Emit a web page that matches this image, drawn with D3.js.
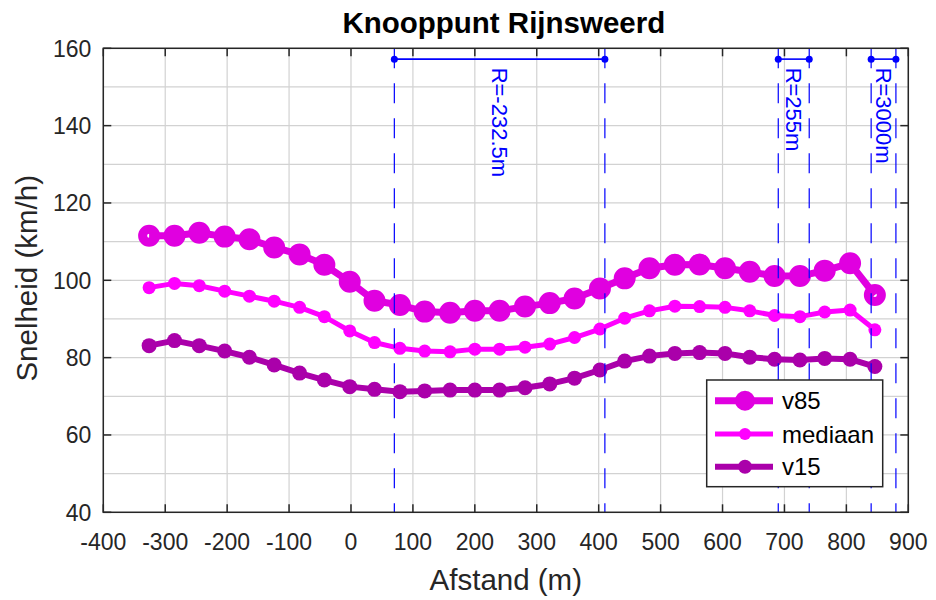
<!DOCTYPE html>
<html>
<head>
<meta charset="utf-8">
<script src="https://cdn.jsdelivr.net/npm/d3@7"></script>
<style>
  html, body { margin: 0; padding: 0; background: #fff; }
  svg { display: block; font-family: "Liberation Sans", Arial, Helvetica, sans-serif; }
</style>
</head>
<body>
<svg id="chart" width="936" height="600"></svg>
<script>
// Meetpunten langs de rijbaan (afstand in m)
const afstand = [-326, -285, -245, -204, -164, -124, -83, -43, -2, 38,
                 79, 119, 160, 200, 240, 281, 321, 361, 402, 442,
                 482, 523, 563, 604, 644, 684, 725, 765, 806, 846];

// Snelheden (km/h)
const v85 = [111.5, 111.5, 112.3, 111.3, 110.6, 108.5, 106.7, 104.0, 99.6, 94.7,
             93.6, 91.9, 91.6, 92.1, 92.1, 93.2, 94.1, 95.3, 97.9, 100.5,
             103.1, 104.0, 104.1, 103.1, 102.2, 101.1, 101.1, 102.5, 104.4, 96.2];
const mediaan = [98.1, 99.2, 98.6, 97.2, 95.9, 94.6, 93.0, 90.6, 86.9, 83.9,
                 82.4, 81.7, 81.5, 82.2, 82.2, 82.7, 83.5, 85.2, 87.4, 90.2,
                 92.1, 93.3, 93.2, 93.0, 92.1, 90.9, 90.6, 91.8, 92.3, 87.2];
const v15 = [83.1, 84.4, 83.1, 81.7, 80.1, 78.1, 76.0, 74.2, 72.5, 71.8,
             71.2, 71.4, 71.6, 71.6, 71.6, 72.2, 73.2, 74.7, 76.8, 79.1,
             80.4, 81.1, 81.3, 81.1, 80.1, 79.6, 79.4, 79.8, 79.6, 77.7];

// Boogstukken (begin, eind, straal)
const boogBegin = [70, 690, 840];
const boogEind = [410, 740, 880];
const boogLabel = ["R=-232.5m", "R=255m", "R=3000m"];
const boogHoogte = 157.2;

// As-instellingen
const xTicks = [-400, -300, -200, -100, 0, 100, 200, 300, 400, 500, 600, 700, 800, 900];
const yTicks = [40, 60, 80, 100, 120, 140, 160];
const yGrid = [40, 50, 60, 70, 80, 90, 100, 110, 120, 130, 140, 150, 160];

const svg = d3.select("#chart");
const pL = 103.3, pR = 908.3, pT = 48.3, pB = 512.3;

const x = d3.scaleLinear().domain([-400, 900]).range([pL, pR]);
const y = d3.scaleLinear().domain([40, 160]).range([pB, pT]);

const axisColor = "#262626";
const gridColor = "#d2d2d2";

// Raster
const grid = svg.append("g");
grid.selectAll("line.gx").data(xTicks).join("line")
  .attr("x1", d => x(d)).attr("x2", d => x(d))
  .attr("y1", pT).attr("y2", pB)
  .attr("stroke", gridColor).attr("stroke-width", 1.2);
grid.selectAll("line.gy").data(yGrid).join("line")
  .attr("x1", pL).attr("x2", pR)
  .attr("y1", d => y(d)).attr("y2", d => y(d))
  .attr("stroke", gridColor).attr("stroke-width", 1.2);

// Reeksen
const series = [
  { name: "v85", values: v85, color: "rgb(224,0,224)", lw: 7, r: 6.5, msw: 9, hollow: true, legendR: 10 },
  { name: "mediaan", values: mediaan, color: "rgb(255,0,255)", lw: 5, r: 6.5, msw: 0, hollow: false, legendR: 6 },
  { name: "v15", values: v15, color: "rgb(170,0,170)", lw: 6, r: 7.5, msw: 0, hollow: false, legendR: 7 }
];

const line = d3.line().x((d, i) => x(afstand[i])).y(d => y(d));

series.forEach(s => {
  const g = svg.append("g");
  g.append("path").datum(s.values)
    .attr("d", line)
    .attr("fill", "none")
    .attr("stroke", s.color)
    .attr("stroke-width", s.lw)
    .attr("stroke-linejoin", "round");
  const m = g.selectAll("circle").data(s.values).join("circle")
    .attr("cx", (d, i) => x(afstand[i]))
    .attr("cy", d => y(d));
  if (s.hollow) {
    m.attr("r", s.r).attr("fill", "none").attr("stroke", s.color).attr("stroke-width", s.msw);
  } else {
    m.attr("r", s.r).attr("fill", s.color);
  }
});

// Boogaanduidingen
const boog = svg.append("g").attr("fill", "#0000ff").attr("stroke", "#0000ff");
boogBegin.forEach((b, i) => {
  const e = boogEind[i];
  [b, e].forEach(v => {
    boog.append("line")
      .attr("x1", x(v)).attr("x2", x(v))
      .attr("y1", y(160)).attr("y2", y(40))
      .attr("stroke-width", 1.2)
      .attr("stroke-dasharray", "20,15");
    boog.append("circle").attr("cx", x(v)).attr("cy", y(boogHoogte)).attr("r", 3.5).attr("stroke", "none");
  });
  boog.append("line")
    .attr("x1", x(b)).attr("x2", x(e))
    .attr("y1", y(boogHoogte)).attr("y2", y(boogHoogte))
    .attr("stroke-width", 1.6);
  const mx = x((b + e) / 2), my = y(155);
  boog.append("text")
    .attr("transform", `translate(${mx},${my}) rotate(90)`)
    .attr("stroke", "none")
    .attr("dominant-baseline", "central")
    .attr("font-size", 22)
    .text(boogLabel[i]);
});

// Kader en tickmarks
const frame = svg.append("g").attr("stroke", axisColor).attr("stroke-width", 1.5);
frame.append("rect").attr("x", pL).attr("y", pT)
  .attr("width", pR - pL).attr("height", pB - pT).attr("fill", "none");
const tl = 8;
xTicks.forEach(t => {
  frame.append("line").attr("x1", x(t)).attr("x2", x(t)).attr("y1", pB).attr("y2", pB - tl);
  frame.append("line").attr("x1", x(t)).attr("x2", x(t)).attr("y1", pT).attr("y2", pT + tl);
});
yTicks.forEach(t => {
  frame.append("line").attr("x1", pL).attr("x2", pL + tl).attr("y1", y(t)).attr("y2", y(t));
  frame.append("line").attr("x1", pR).attr("x2", pR - tl).attr("y1", y(t)).attr("y2", y(t));
});

// Ticklabels
svg.append("g").selectAll("text").data(xTicks).join("text")
  .attr("x", d => x(d)).attr("y", pB + 38)
  .attr("text-anchor", "middle").attr("font-size", 23).attr("fill", axisColor)
  .text(d => d);
svg.append("g").selectAll("text").data(yTicks).join("text")
  .attr("x", pL - 12).attr("y", d => y(d) + 8.5)
  .attr("text-anchor", "end").attr("font-size", 23).attr("fill", axisColor)
  .text(d => d);

// Aslabels en titel
svg.append("text").attr("x", (pL + pR) / 2).attr("y", 590)
  .attr("text-anchor", "middle").attr("font-size", 29.5).attr("fill", axisColor)
  .text("Afstand (m)");
svg.append("text")
  .attr("transform", `translate(37,${(pT + pB) / 2 - 2}) rotate(-90)`)
  .attr("text-anchor", "middle").attr("font-size", 29.5).attr("fill", axisColor)
  .text("Snelheid (km/h)");
svg.append("text").attr("x", (pL + pR) / 2 - 2).attr("y", 33)
  .attr("text-anchor", "middle").attr("font-size", 29.5).attr("font-weight", "bold").attr("fill", "#000")
  .text("Knooppunt Rijnsweerd");

// Legenda
const lg = svg.append("g");
const lgX = 706.7, lgY = 380, lgW = 176, lgH = 106.7;
lg.append("rect").attr("x", lgX).attr("y", lgY).attr("width", lgW).attr("height", lgH)
  .attr("fill", "#fff").attr("stroke", axisColor).attr("stroke-width", 1.5);
const rowY = [400.7, 434, 466.7];
series.forEach((s, i) => {
  lg.append("line").attr("x1", 715).attr("x2", 773).attr("y1", rowY[i]).attr("y2", rowY[i])
    .attr("stroke", s.color).attr("stroke-width", s.lw);
  lg.append("circle").attr("cx", 745).attr("cy", rowY[i]).attr("r", s.legendR).attr("fill", s.color);
  lg.append("text").attr("x", 782).attr("y", rowY[i]).attr("dominant-baseline", "central")
    .attr("font-size", 24).attr("fill", "#000").text(s.name);
});
</script>
</body>
</html>
